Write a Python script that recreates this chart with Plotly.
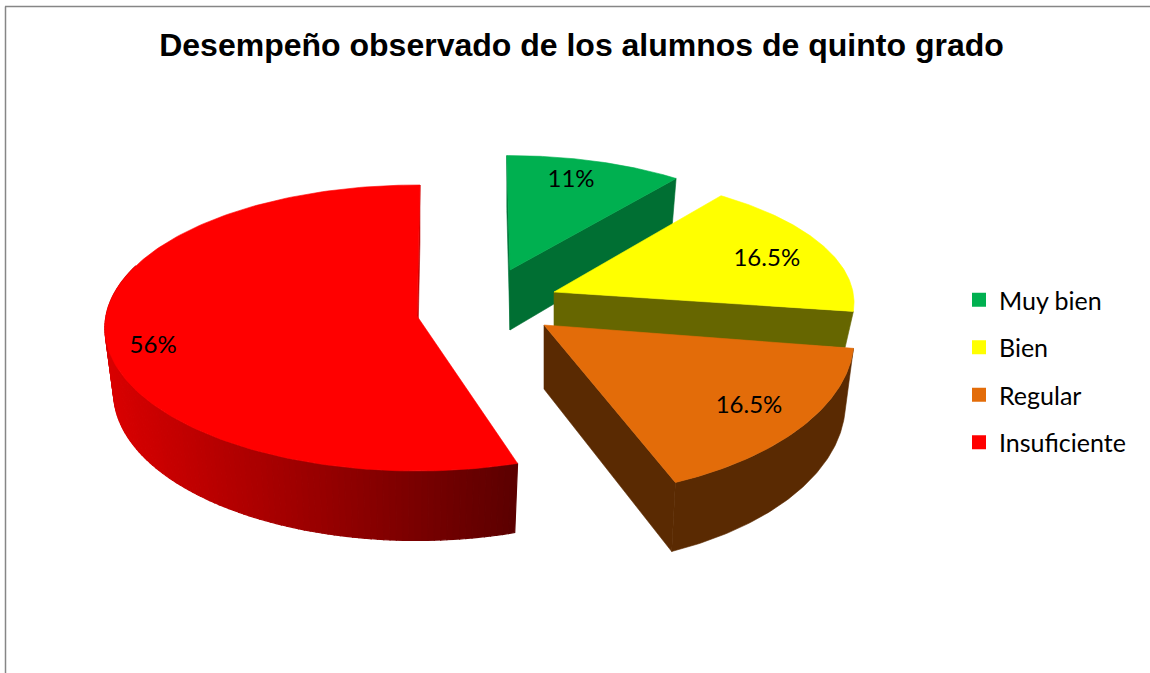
import math
import plotly.graph_objects as go

# --- data ---
categories = ["Muy bien", "Bien", "Regular", "Insuficiente"]
values = [11, 16.5, 16.5, 56]
labels = ["11%", "16.5%", "16.5%", "56%"]
title = "Desempeño observado de los alumnos de quinto grado"

# --- style: how each exploded slice is drawn (pseudo-3D tilt) ---
top_colors = ["#00B050", "#FFFF00", "#E36C09", "#FF0000"]
side_colors = ["#006F33", "#666600", "#5A2A02", None]
apex_x = [510, 554, 544, 417]
apex_y = [270, 292, 325, 316]
radius_x = [287, 299, 309, 311]
radius_y = [124, 128, 158, 142]
# perspective nudges of each slice's start and end angle, degrees
start_nudge = [-0.7, -3.0, -0.6, 4.3]
end_nudge = [-1.5, -0.4, -1.5, 0.6]
depth = [60, 36, 64, 64]
label_theta = [16.2, 69.7, 127.3, 256.5]
label_r = [0.812, 0.776, 0.80, 0.858]
label_drop = 2
tilt = 0.084
shrink = 0.972
depth_growth = 0.085
LEFT_SHADE = (218, 0, 0)
RIGHT_SHADE = (92, 0, 0)
N = 90


def project(i, theta_deg, r=1.0, low=False):
    t = math.radians(theta_deg)
    X, Y = r * math.sin(t), r * math.cos(t)
    w = 1 + tilt * Y
    dx = radius_x[i] * X / w
    dy = -radius_y[i] * Y / w
    if low:
        return apex_x[i] + dx * shrink, apex_y[i] + dy + depth[i] * (1 - depth_growth * Y)
    return apex_x[i] + dx, apex_y[i] + dy


def span(a, b, n):
    return [a + (b - a) * k / n for k in range(n + 1)]


fig = go.Figure()


def poly(points, color, lw=0.6):
    xs = [p[0] for p in points] + [points[0][0]]
    ys = [p[1] for p in points] + [points[0][1]]
    fig.add_trace(go.Scatter(x=xs, y=ys, mode="lines", fill="toself", fillcolor=color,
                             line=dict(color=color, width=lw), showlegend=False, hoverinfo="skip"))


total = sum(values)
cum = 0
ang = []
for i, v in enumerate(values):
    ang.append((cum / total * 360 + start_nudge[i], (cum + v) / total * 360 + end_nudge[i]))
    cum += v

# green
a0, a1 = ang[0]
poly([project(0, a0), project(0, a0, 0), project(0, a0, 0, True), project(0, a0, 1, True)], "#00753A")
poly([project(0, 0, 0), project(0, a1), project(0, a1, 1, True), project(0, 0, 0, True)], side_colors[0])
poly([project(0, 0, 0)] + [project(0, t) for t in span(a0, a1, N)], top_colors[0])

# yellow
a0, a1 = ang[1]
poly([project(1, 0, 0), project(1, a1), project(1, a1, 1, True), project(1, 0, 0, True)], side_colors[1])
poly([project(1, 0, 0)] + [project(1, t) for t in span(a0, a1, N)], top_colors[1])

# orange
a0, a1 = ang[2]
poly([project(2, 0, 0), project(2, a1), project(2, a1, 1, True), project(2, 0, 0, True)], side_colors[2])
poly([project(2, t) for t in span(a0, a1, N)] + [project(2, t, 1, True) for t in span(a1, a0, N)], side_colors[2])
poly([project(2, 0, 0)] + [project(2, t) for t in span(a0, a1, N)], top_colors[2])

# red: thin cut at the top, shaded rim, top face
a0, a1 = ang[3]
poly([project(3, a1), project(3, a1, 0), project(3, a1, 0, True), project(3, a1, 1, True)], "#C00000")
rim = [t for t in span(a0, a1, N * 2) if t <= 292]
x_lo = min(project(3, t, 1, True)[0] for t in rim)
x_hi = project(3, a0, 1, True)[0]
steps = list(zip(rim[:-1], rim[1:]))
for t0, t1 in reversed(steps):
    f = min(1, max(0, (project(3, t0, 1, True)[0] - x_lo) / (x_hi - x_lo)))
    c = tuple(round(l + (r - l) * f) for l, r in zip(LEFT_SHADE, RIGHT_SHADE))
    poly([project(3, t0), project(3, t1), project(3, t1, 1, True), project(3, t0, 1, True)], f"rgb{c}", 1.2)
poly([project(3, 0, 0)] + [project(3, t) for t in span(a0, a1, N * 2)], top_colors[3])

# value labels
for i, lab in enumerate(labels):
    px, py = project(i, label_theta[i], label_r[i])
    fig.add_trace(go.Scatter(x=[px], y=[py + label_drop], mode="text", text=[lab], textposition="middle center",
                             textfont=dict(family="Lato", size=24, color="#000000"),
                             showlegend=False, hoverinfo="skip"))

# legend
for i, name in enumerate(categories):
    fig.add_trace(go.Scatter(x=[None], y=[None], mode="markers", name=name, legendgroup=name,
                             marker=dict(symbol="square", size=14, color=top_colors[i])))

fig.update_layout(
    width=1150, height=673, margin=dict(l=0, r=0, t=0, b=0),
    paper_bgcolor="white", plot_bgcolor="white",
    title=dict(text=f"<b>{title}</b>", x=581.5 / 1150, xanchor="center", y=1 - 45 / 673, yanchor="middle",
               font=dict(family="Liberation Sans", size=32, color="#000000")),
    xaxis=dict(range=[0, 1150], visible=False, fixedrange=True),
    yaxis=dict(range=[673, 0], visible=False, fixedrange=True),
    legend=dict(x=959 / 1150, y=1 - 371 / 673, xanchor="left", yanchor="middle", tracegroupgap=12,
                font=dict(family="Lato", size=25, color="#000000"), bgcolor="rgba(0,0,0,0)"),
    shapes=[
        dict(type="line", xref="paper", yref="paper", x0=5.5 / 1150, x1=5.5 / 1150, y0=0, y1=1 - 6.5 / 673,
             line=dict(color="#868686", width=1.5)),
        dict(type="line", xref="paper", yref="paper", x0=5 / 1150, x1=1, y0=1 - 6.5 / 673, y1=1 - 6.5 / 673,
             line=dict(color="#868686", width=1.5)),
    ],
)

fig.write_html("out.html", config=dict(displayModeBar=False),
               post_script="document.body.style.margin='0';document.body.style.overflow='hidden';")
